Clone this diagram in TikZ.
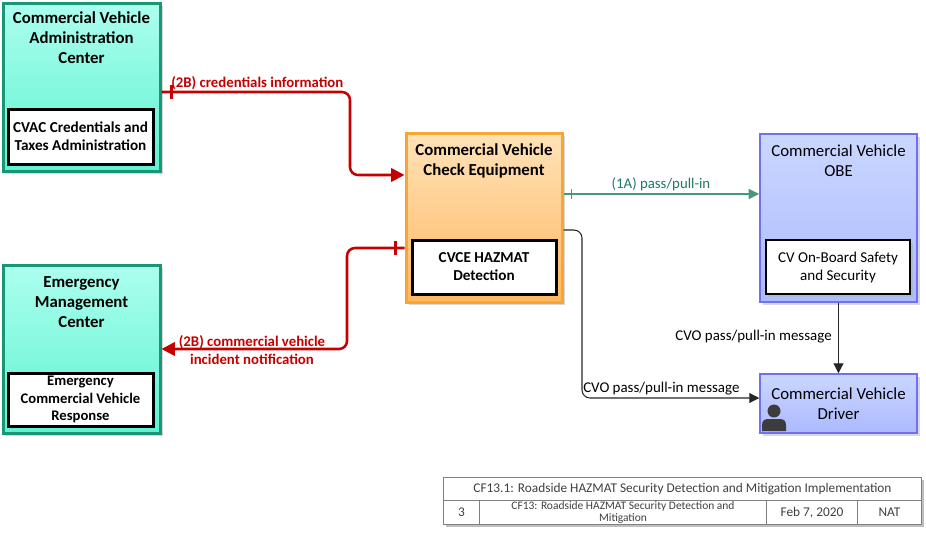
\documentclass[tikz,border=0pt]{standalone}
\usepackage{fontspec}
\setmainfont{Carlito}
\usetikzlibrary{arrows.meta,calc,shadows}
\definecolor{tealedge}{RGB}{24,150,118}
\definecolor{tealtop}{RGB}{172,255,238}
\definecolor{tealbot}{RGB}{95,242,208}
\definecolor{orgedge}{RGB}{247,166,52}
\definecolor{orgtop}{RGB}{255,226,184}
\definecolor{orgbot}{RGB}{255,184,98}
\definecolor{bluedge}{RGB}{112,112,240}
\definecolor{blutop}{RGB}{202,215,255}
\definecolor{blubot}{RGB}{172,186,255}
\definecolor{credred}{RGB}{196,0,0}
\definecolor{passline}{RGB}{70,150,130}
\definecolor{passtext}{RGB}{30,120,100}
\definecolor{tabgray}{RGB}{128,128,128}
\definecolor{tabtext}{RGB}{64,64,64}
\definecolor{iconc}{RGB}{60,60,60}
\begin{document}
\begin{tikzpicture}[x=0.75pt, y=-0.75pt,
    shade/.style={drop shadow={shadow xshift=2pt, shadow yshift=-2pt, fill=black!30}},
    center/.style={shade, draw=tealedge, line width=2.25pt, top color=tealtop, bottom color=tealbot,
        minimum width=117.75pt, minimum height=126pt, inner sep=0pt},
    field/.style={shade, draw=orgedge, line width=2.25pt, top color=orgtop, bottom color=orgbot,
        minimum width=117pt, minimum height=126.75pt, inner sep=0pt},
    vehicle/.style={shade, draw=bluedge, line width=1.1pt, top color=blutop, bottom color=blubot,
        minimum width=117.75pt, minimum height=126pt, inner sep=0pt},
    ttl/.style={align=center, font=\bfseries\fontsize{12.6}{15}\selectfont},
    ttlplain/.style={align=center, font=\fontsize{12.6}{15}\selectfont},
    obj/.style={draw=black, line width=2.25pt, fill=white, align=center, inner sep=0pt,
        minimum width=108.75pt, minimum height=41.25pt, font=\bfseries\fontsize{11.4}{13.5}\selectfont},
    objplain/.style={shade, draw=black, line width=0.8pt, fill=white, align=center, inner sep=0pt,
        minimum width=108pt, minimum height=40.5pt, font=\fontsize{11.3}{13.5}\selectfont},
    credflow/.style={credred, line width=1.9pt, rounded corners=6pt},
    passflow/.style={passline, line width=1.1pt},
    cvoflow/.style={black!85, line width=0.8pt, rounded corners=6pt},
    credlbl/.style={credred, font=\bfseries\fontsize{11.1}{13.5}\selectfont, align=center, inner sep=0pt},
    passlbl/.style={passtext, font=\fontsize{11.1}{12}\selectfont, inner sep=0pt},
    cvolbl/.style={black, font=\fontsize{11.2}{12}\selectfont, inner sep=0pt},
    tabcell/.style={draw=tabgray, line width=0.75pt, fill=white, text=tabtext, inner sep=0pt,
        anchor=north west, align=center, minimum height=18pt},
]
\useasboundingbox (0,0) rectangle (926,533);

% centers
\node[center] (cvac) at (81.5,87) {};
\node[ttl] (cvacttl) at (81.5,38) {Commercial Vehicle\\Administration\\Center};
\node[obj] (cvacobj) at (80.5,136.5) {CVAC Credentials and\\Taxes Administration};

\node[center] (emc) at (81.5,349) {};
\node[ttl] (emcttl) at (81.5,302.5) {Emergency\\Management\\Center};
\node[obj, minimum height=39.75pt, font=\bfseries\fontsize{11}{13}\selectfont] (emcobj) at (80.5,399.5)
    {Emergency\\Commercial Vehicle\\Response};

% field
\node[field] (cvce) at (484,217.5) {};
\node[ttl] (cvcettl) at (484,160.5) {Commercial Vehicle\\Check Equipment};
\node[obj, minimum width=108pt, minimum height=40.5pt] (cvceobj) at (484,267) {CVCE HAZMAT\\Detection};

% vehicle
\node[vehicle] (obe) at (838.5,218) {};
\node[ttlplain] (obettl) at (838.5,160.5) {Commercial Vehicle\\OBE};
\node[objplain] (obeobj) at (838,267) {CV On-Board Safety\\and Security};

\node[vehicle, minimum height=44.25pt] (drv) at (838.5,403.5) {};
\node[ttlplain] (drvttl) at (838.5,403.5) {Commercial Vehicle\\Driver};
\fill[iconc] (774,411) circle (6.5);
\fill[iconc] (762,431) -- (762,426) .. controls (762,420) and (764,419) .. (770,419)
    -- (778,419) .. controls (784,419) and (786,420) .. (786,426) -- (786,431) -- cycle;

% flows
\coordinate (credbend) at (350,175);
\draw[credflow, -{Triangle[length=10pt, width=10pt]}] ($(cvac.east)+(0,5)$) -| (credbend) -- ($(cvce.west)+(0,-42.5)$);
\draw[credred, line width=1.9pt] ($(cvac.east)+(10,-2)$) -- ++(0,14);
\node[credlbl, anchor=west] (credlbl) at (171,83) {(2B) credentials information};

\coordinate (incbend) at (347,349);
\draw[credflow, -{Triangle[length=10pt, width=10pt]}] ($(cvce.west)+(0,30.5)$) -| (incbend) -- (emc.east);
\draw[credred, line width=1.9pt] ($(cvce.west)+(-9,23.5)$) -- ++(0,14);
\node[credlbl] (inclbl) at (252,350) {(2B) commercial vehicle\\incident notification};

\coordinate (passout) at ($(cvce.east)+(0,-23.5)$);
\draw[passflow, -{Triangle[length=8pt, width=7.5pt]}] (passout) -- (passout -| obe.west);
\draw[passflow] ($(passout)+(8,-5)$) -- ++(0,10);
\node[passlbl] (passlbl) at (661,184) {(1A) pass/pull-in};

\coordinate (cvoout) at ($(cvce.east)+(0,12.5)$);
\coordinate (cvobend) at (582,398);
\draw[cvoflow, -{Triangle[length=7.5pt, width=7.5pt]}] (cvoout) -| (cvobend) -- (cvobend -| drv.west);
\node[cvolbl, anchor=west] (cvolbl) at (583,389) {CVO pass/pull-in message};

\draw[cvoflow, -{Triangle[length=7.5pt, width=7.5pt]}] (obe.south) -- (drv.north);
\node[cvolbl, anchor=east] (obelbl) at (832,337) {CVO pass/pull-in message};

% title block
\fill[black!25] (446,480) rectangle (924,527);
\node[tabcell, minimum width=358.5pt, minimum height=17.25pt, font=\fontsize{10}{11}\selectfont]
    (tabttl) at (443,477) {CF13.1: Roadside HAZMAT Security Detection and Mitigation Implementation};
\node[tabcell, minimum width=27pt, font=\fontsize{10}{11}\selectfont] (tabnum) at (443,500) {3};
\node[tabcell, minimum width=215.25pt, font=\fontsize{8.6}{8.8}\selectfont] (tabname) at (479,500)
    {CF13: Roadside HAZMAT Security Detection and\\Mitigation};
\node[tabcell, minimum width=68.25pt, font=\fontsize{10}{11}\selectfont] (tabdate) at (766,500) {Feb 7, 2020};
\node[tabcell, minimum width=48pt, font=\fontsize{10}{11}\selectfont] (tabnat) at (857,500) {NAT};

\end{tikzpicture}
\end{document}
